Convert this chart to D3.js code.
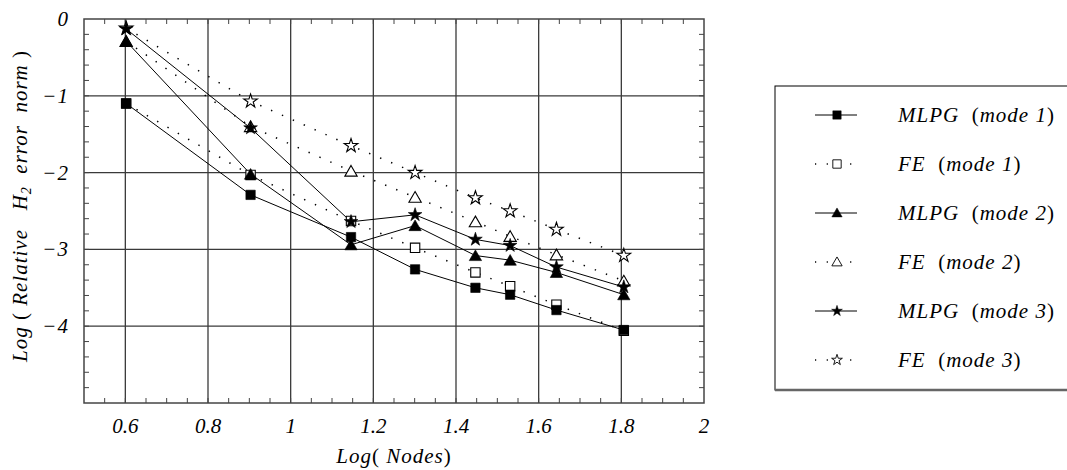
<!DOCTYPE html>
<html>
<head>
<meta charset="utf-8">
<script src="https://cdn.jsdelivr.net/npm/d3@7"></script>
<style>
  html, body { margin: 0; padding: 0; background: #fff; }
  svg text { font-family: "Liberation Serif", "DejaVu Serif", serif; }
</style>
</head>
<body>
<svg id="chart" width="1067" height="470"></svg>
<script>
// log10 of node counts
const logNodes = [0.602, 0.903, 1.146, 1.301, 1.447, 1.531, 1.643, 1.806];

// log of relative H2 error norm per method/mode
const mlpgMode1 = [-1.10, -2.29, -2.84, -3.26, -3.50, -3.59, -3.79, -4.05];
const feMode1   = [-1.10, -2.03, -2.63, -2.98, -3.30, -3.48, -3.72, -4.06];
const mlpgMode2 = [-0.29, -2.02, -2.94, -2.69, -3.08, -3.14, -3.30, -3.59];
const feMode2   = [-0.29, -1.40, -1.98, -2.32, -2.64, -2.83, -3.07, -3.41];
const mlpgMode3 = [-0.13, -1.42, -2.64, -2.55, -2.87, -2.95, -3.23, -3.49];
const feMode3   = [-0.12, -1.07, -1.65, -2.00, -2.33, -2.50, -2.74, -3.08];

const xTicks = [0.6, 0.8, 1, 1.2, 1.4, 1.6, 1.8, 2];
const yTicks = [0, -1, -2, -3, -4];

const seriesNames = ["MLPG", "FE", "MLPG", "FE", "MLPG", "FE"];
const seriesModes = ["mode 1", "mode 1", "mode 2", "mode 2", "mode 3", "mode 3"];

const series = [
  { name: seriesNames[0], mode: seriesModes[0], values: mlpgMode1, shape: "square",   filled: true,  dotted: false },
  { name: seriesNames[1], mode: seriesModes[1], values: feMode1,   shape: "square",   filled: false, dotted: true  },
  { name: seriesNames[2], mode: seriesModes[2], values: mlpgMode2, shape: "triangle", filled: true,  dotted: false },
  { name: seriesNames[3], mode: seriesModes[3], values: feMode2,   shape: "triangle", filled: false, dotted: true  },
  { name: seriesNames[4], mode: seriesModes[4], values: mlpgMode3, shape: "star",     filled: true,  dotted: false },
  { name: seriesNames[5], mode: seriesModes[5], values: feMode3,   shape: "star",     filled: false, dotted: true  }
];

const svg = d3.select("#chart");
const plot = { left: 84, right: 704, top: 19, bottom: 403 };

const x = d3.scaleLinear().domain([0.5, 2]).range([plot.left, plot.right]);
const y = d3.scaleLinear().domain([-5, 0]).range([plot.bottom, plot.top]);

const symbolType = { square: d3.symbolSquare, triangle: d3.symbolTriangle, star: d3.symbolStar };
const plotSizes = { square: 88, triangle: 66, star: 58 };
const legendSizes = { square: 70, triangle: 46, star: 36 };

function symbolPath(shape, size) {
  return d3.symbol().type(symbolType[shape]).size(size)();
}
// triangles are drawn about their centroid; nudge so the datum sits near the middle
const triShift = { square: 0, triangle: 1.5, star: 0 };

const gridColor = "#3a3a3a";
const fontSize = 21;

// grid lines at major ticks
const gGrid = svg.append("g");
gGrid.selectAll("line.vx").data(xTicks.filter(d => d < 2)).join("line")
  .attr("x1", d => x(d)).attr("x2", d => x(d))
  .attr("y1", plot.top).attr("y2", plot.bottom)
  .attr("stroke", gridColor).attr("stroke-width", 1.3);
gGrid.selectAll("line.hy").data(yTicks.filter(d => d < 0)).join("line")
  .attr("x1", plot.left).attr("x2", plot.right)
  .attr("y1", d => y(d)).attr("y2", d => y(d))
  .attr("stroke", gridColor).attr("stroke-width", 1.3);

// frame with inward minor ticks
const frame = svg.append("g");
frame.append("rect")
  .attr("x", plot.left).attr("y", plot.top)
  .attr("width", plot.right - plot.left).attr("height", plot.bottom - plot.top)
  .attr("fill", "none").attr("stroke", "#444").attr("stroke-width", 1.5);

const xMinor = d3.range(0.55, 2.0, 0.05).map(v => +v.toFixed(2));
const yMinor = d3.range(-4.8, 0, 0.2).map(v => +v.toFixed(2));
const tickLen = 5;
frame.selectAll("line.tb").data(xMinor).join("line")
  .attr("x1", d => x(d)).attr("x2", d => x(d))
  .attr("y1", plot.bottom).attr("y2", plot.bottom - tickLen)
  .attr("stroke", "#444").attr("stroke-width", 1);
frame.selectAll("line.tt").data(xMinor).join("line")
  .attr("x1", d => x(d)).attr("x2", d => x(d))
  .attr("y1", plot.top).attr("y2", plot.top + tickLen)
  .attr("stroke", "#444").attr("stroke-width", 1);
frame.selectAll("line.tl").data(yMinor).join("line")
  .attr("x1", plot.left).attr("x2", plot.left + tickLen)
  .attr("y1", d => y(d)).attr("y2", d => y(d))
  .attr("stroke", "#444").attr("stroke-width", 1);
frame.selectAll("line.tr").data(yMinor).join("line")
  .attr("x1", plot.right).attr("x2", plot.right - tickLen)
  .attr("y1", d => y(d)).attr("y2", d => y(d))
  .attr("stroke", "#444").attr("stroke-width", 1);

// tick labels
const fmtX = d => String(d);
const fmtY = d => d === 0 ? "0" : "\u2212" + Math.abs(d);
svg.append("g").selectAll("text").data(xTicks).join("text")
  .attr("x", d => x(d)).attr("y", 433)
  .attr("text-anchor", "middle").attr("font-size", fontSize).attr("font-style", "italic")
  .text(fmtX);
svg.append("g").selectAll("text").data(yTicks).join("text")
  .attr("x", 69).attr("y", d => y(d) + 7)
  .attr("text-anchor", "end").attr("font-size", fontSize).attr("font-style", "italic")
  .attr("letter-spacing", 1)
  .text(fmtY);

// axis titles (parentheses upright, words italic)
const xt = svg.append("text").attr("x", (plot.left + plot.right) / 2).attr("y", 463)
  .attr("text-anchor", "middle").attr("font-size", fontSize).attr("letter-spacing", 1)
  .attr("xml:space", "preserve");
xt.append("tspan").attr("font-style", "italic").text("Log");
xt.append("tspan").text("( ");
xt.append("tspan").attr("font-style", "italic").text("Nodes");
xt.append("tspan").text(")");

const yt = svg.append("text")
  .attr("transform", `translate(27, 206) rotate(-90)`)
  .attr("text-anchor", "middle").attr("font-size", fontSize).attr("letter-spacing", 1)
  .attr("xml:space", "preserve");
yt.append("tspan").attr("font-style", "italic").text("Log ");
yt.append("tspan").text("( ");
yt.append("tspan").attr("font-style", "italic").text("Relative   H");
yt.append("tspan").attr("font-style", "italic").attr("font-size", 14).attr("dy", 4).text("2");
yt.append("tspan").attr("font-style", "italic").attr("dy", -4).text("  error  norm ");
yt.append("tspan").text(")");

// series lines
const line = d3.line().x((d, i) => x(logNodes[i])).y(d => y(d));
const gLines = svg.append("g");
series.forEach(s => {
  gLines.append("path")
    .attr("d", line(s.values))
    .attr("fill", "none")
    .attr("stroke", "#000")
    .attr("stroke-width", s.dotted ? 1.5 : 1)
    .attr("stroke-dasharray", s.dotted ? "1.4,10.5" : null);
});

// markers: hollow first, filled on top
const gMarks = svg.append("g");
const order = [1, 3, 5, 0, 2, 4];
order.forEach(k => {
  const s = series[k];
  gMarks.selectAll(null).data(s.values).join("path")
    .attr("transform", (d, i) => `translate(${x(logNodes[i])},${y(d) + triShift[s.shape]})`)
    .attr("d", symbolPath(s.shape, plotSizes[s.shape]))
    .attr("fill", s.filled ? "#000" : "#fff")
    .attr("stroke", "#000")
    .attr("stroke-width", s.filled ? 0.6 : 1.1);
});

// legend
const lg = svg.append("g");
const box = { x: 775, y: 86, w: 300, h: 304 };
lg.append("rect").attr("x", box.x).attr("y", box.y).attr("width", box.w).attr("height", box.h)
  .attr("fill", "#fff").attr("stroke", "#000").attr("stroke-width", 1);
lg.append("line").attr("x1", box.x).attr("x2", box.x + box.w)
  .attr("y1", box.y + box.h).attr("y2", box.y + box.h)
  .attr("stroke", "#666").attr("stroke-width", 2.4);

const rowY = d3.scalePoint().domain(d3.range(series.length)).range([115, 360]);
series.forEach((s, k) => {
  const cy = rowY(k);
  if (s.dotted) {
    lg.append("line").attr("x1", 815).attr("x2", 859).attr("y1", cy).attr("y2", cy)
      .attr("stroke", "#000").attr("stroke-width", 1.3).attr("stroke-dasharray", "1.2,10.5");
  } else {
    lg.append("line").attr("x1", 815).attr("x2", 857).attr("y1", cy).attr("y2", cy)
      .attr("stroke", "#000").attr("stroke-width", 1);
  }
  lg.append("path")
    .attr("transform", `translate(837,${cy + triShift[s.shape] * 0.6})`)
    .attr("d", symbolPath(s.shape, legendSizes[s.shape]))
    .attr("fill", s.filled ? "#000" : "#fff")
    .attr("stroke", "#000").attr("stroke-width", s.filled ? 0.5 : 0.9);
  const t = lg.append("text").attr("x", 898).attr("y", cy + 7).attr("font-size", fontSize)
    .attr("letter-spacing", 1).attr("xml:space", "preserve");
  t.append("tspan").attr("font-style", "italic").text(s.name);
  t.append("tspan").text("  (");
  t.append("tspan").attr("font-style", "italic").text(s.mode);
  t.append("tspan").text(")");
});
</script>
</body>
</html>
